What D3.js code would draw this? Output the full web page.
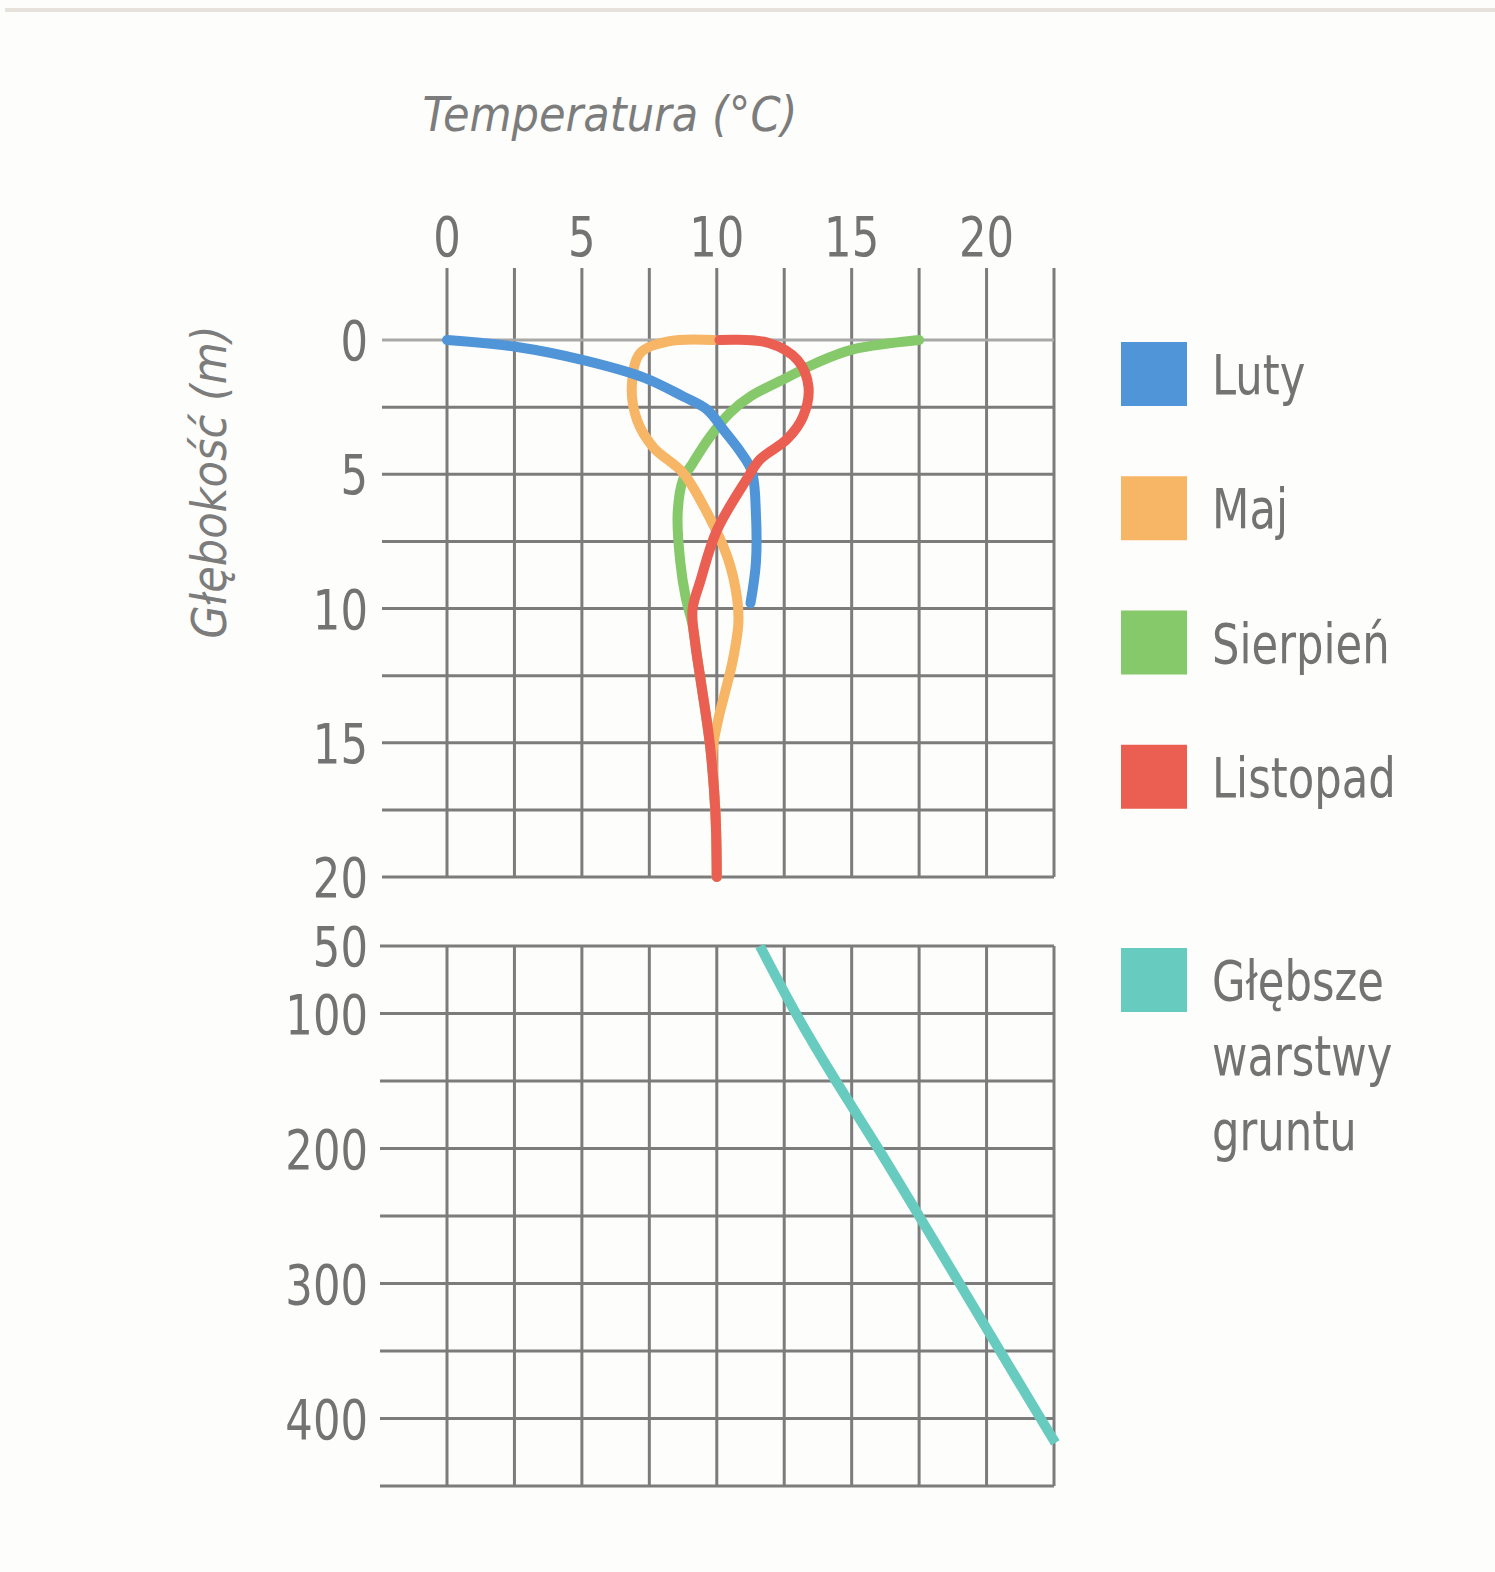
<!DOCTYPE html>
<html>
<head>
<meta charset="utf-8">
<script src="https://cdn.jsdelivr.net/npm/d3@7"></script>
<style>
  body { margin: 0; background: #fdfdfb; }
  svg { display: block; }
  text { font-family: 'Liberation Sans Narrow', 'DejaVu Sans Condensed', 'Liberation Sans', Arial, sans-serif; }
</style>
</head>
<body>
<svg></svg>
<script>
// temperatura (°C) vs głębokość (m)
const luty = [
    { t: 0, d: 0 }, { t: 2.6, d: 0.26 }, { t: 5.05, d: 0.75 }, { t: 7.3, d: 1.4 },
    { t: 8.75, d: 2.1 }, { t: 9.65, d: 2.6 }, { t: 10.25, d: 3.35 }, { t: 10.9, d: 4.2 },
    { t: 11.3, d: 4.9 }, { t: 11.45, d: 6.45 }, { t: 11.45, d: 8.3 }, { t: 11.25, d: 9.8 }
];
const maj = [
    { t: 9.9, d: 0 }, { t: 8.2, d: 0.05 }, { t: 7.15, d: 0.5 }, { t: 6.85, d: 1.75 },
    { t: 7.05, d: 3.0 }, { t: 7.65, d: 4.0 }, { t: 8.75, d: 4.95 }, { t: 9.65, d: 6.45 },
    { t: 10.4, d: 8.1 }, { t: 10.75, d: 9.6 }, { t: 10.8, d: 10.55 }, { t: 10.6, d: 11.9 },
    { t: 10.3, d: 13.15 }, { t: 10.05, d: 14.15 }, { t: 9.85, d: 15.3 }, { t: 9.95, d: 17.6 },
    { t: 10, d: 20 }
];
const sierpien = [
    { t: 17.5, d: 0 }, { t: 15.05, d: 0.35 }, { t: 13.7, d: 0.85 }, { t: 12.6, d: 1.4 },
    { t: 11.25, d: 2.1 }, { t: 10.5, d: 2.7 }, { t: 9.75, d: 3.6 }, { t: 9.1, d: 4.6 },
    { t: 8.75, d: 5.2 }, { t: 8.55, d: 6.45 }, { t: 8.65, d: 8.3 }, { t: 8.85, d: 9.6 },
    { t: 9.1, d: 10.6 }, { t: 9.3, d: 12.0 }, { t: 9.45, d: 13.0 }, { t: 9.75, d: 15.1 },
    { t: 9.95, d: 17.6 }, { t: 10, d: 20 }
];
const listopad = [
    { t: 10.1, d: 0 }, { t: 11.9, d: 0.1 }, { t: 13.0, d: 0.75 }, { t: 13.4, d: 1.75 },
    { t: 13.2, d: 2.85 }, { t: 12.6, d: 3.7 }, { t: 11.6, d: 4.45 }, { t: 11.1, d: 5.2 },
    { t: 10.0, d: 7.1 }, { t: 9.4, d: 8.95 }, { t: 9.1, d: 10.05 }, { t: 9.2, d: 11.3 },
    { t: 9.4, d: 12.65 }, { t: 9.75, d: 15.1 }, { t: 9.95, d: 17.6 }, { t: 10, d: 20 }
];
const glebsze = [
    { t: 11.6, d: 50 }, { t: 12.9, d: 100 }, { t: 14.4, d: 150 }, { t: 16.0, d: 200 },
    { t: 17.5, d: 250 }, { t: 19.0, d: 300 }, { t: 20.5, d: 350 }, { t: 22.0, d: 400 },
    { t: 22.55, d: 418 }
];

const xTicks = [0, 5, 10, 15, 20];
const topTicks = [0, 5, 10, 15, 20];
const bottomTicks = [50, 100, 200, 300, 400];
const legendTop = ['Luty', 'Maj', 'Sierpień', 'Listopad'];
const legendBottom = ['Głębsze', 'warstwy', 'gruntu'];

const colors = {
    luty: '#4f95d8',
    maj: '#f7b566',
    sierpien: '#86c96b',
    listopad: '#ea5f52',
    glebsze: '#68cbbf'
};

const svgWidth = 1495;
const svgHeight = 1572;
const gridColor = '#7c7c7c';
const textColor = '#737373';
const squeeze = 0.86;

const svg = d3.select('svg')
    .attr('width', svgWidth)
    .attr('height', svgHeight);

svg.append('line')
    .attr('x1', 5).attr('x2', svgWidth)
    .attr('y1', 10).attr('y2', 10)
    .attr('stroke', '#e6e1db')
    .attr('stroke-width', 4);

const xScale = d3.scaleLinear()
    .domain([0, 22.5])
    .range([447, 1054]);

const yTop = d3.scaleLinear()
    .domain([0, 20])
    .range([340, 877]);

const yBottom = d3.scaleLinear()
    .domain([50, 450])
    .range([946, 1486]);

const gridX = d3.range(0, 22.5 + 0.01, 2.5);
const gridTopY = d3.range(0, 20 + 0.01, 2.5);
const gridBottomY = d3.range(50, 450 + 1, 50);
const leftEdge = 382;

const grid = svg.append('g')
    .attr('stroke', gridColor)
    .attr('stroke-width', 3);

// górny panel
grid.selectAll('.vtop')
    .data(gridX)
    .enter().append('line')
    .attr('x1', d => xScale(d))
    .attr('x2', d => xScale(d))
    .attr('y1', yTop(0) - 72)
    .attr('y2', yTop(20));

grid.selectAll('.htop')
    .data(gridTopY)
    .enter().append('line')
    .attr('x1', leftEdge)
    .attr('x2', xScale(22.5))
    .attr('y1', d => yTop(d))
    .attr('y2', d => yTop(d))
    .attr('stroke', d => d === 0 ? '#a8a8a8' : gridColor);

// dolny panel
grid.selectAll('.vbot')
    .data(gridX)
    .enter().append('line')
    .attr('x1', d => xScale(d))
    .attr('x2', d => xScale(d))
    .attr('y1', yBottom(50))
    .attr('y2', yBottom(450));

grid.selectAll('.hbot')
    .data(gridBottomY)
    .enter().append('line')
    .attr('x1', leftEdge - 2)
    .attr('x2', xScale(22.5))
    .attr('y1', d => yBottom(d))
    .attr('y2', d => yBottom(d));

// etykiety osi (wąskie pismo)
svg.selectAll('.xlabel')
    .data(xTicks)
    .enter().append('text')
    .attr('transform', d => `translate(${xScale(d)}, 256) scale(${squeeze}, 1)`)
    .attr('text-anchor', 'middle')
    .attr('fill', textColor)
    .attr('font-size', '56px')
    .text(d => d);

svg.selectAll('.ytop')
    .data(topTicks)
    .enter().append('text')
    .attr('transform', d => `translate(368, ${yTop(d)}) scale(${squeeze}, 1)`)
    .attr('dy', '0.36em')
    .attr('text-anchor', 'end')
    .attr('fill', textColor)
    .attr('font-size', '56px')
    .text(d => d);

svg.selectAll('.ybot')
    .data(bottomTicks)
    .enter().append('text')
    .attr('transform', d => `translate(368, ${yBottom(d)}) scale(${squeeze}, 1)`)
    .attr('dy', '0.36em')
    .attr('text-anchor', 'end')
    .attr('fill', textColor)
    .attr('font-size', '56px')
    .text(d => d);

svg.append('text')
    .attr('x', 610)
    .attr('y', 131)
    .attr('text-anchor', 'middle')
    .attr('fill', '#7c7c7c')
    .attr('font-size', '48px')
    .attr('font-style', 'italic')
    .text('Temperatura (°C)');

svg.append('text')
    .attr('transform', 'translate(226, 482) rotate(-90)')
    .attr('text-anchor', 'middle')
    .attr('fill', '#7c7c7c')
    .attr('font-size', '48px')
    .attr('font-style', 'italic')
    .text('Głębokość (m)');

// krzywe
const lineTop = d3.line()
    .x(d => xScale(d.t))
    .y(d => yTop(d.d))
    .curve(d3.curveCatmullRom.alpha(0.5));

const lineBottom = d3.line()
    .x(d => xScale(d.t))
    .y(d => yBottom(d.d))
    .curve(d3.curveBasis);

const series = [
    { name: 'sierpien', data: sierpien },
    { name: 'maj', data: maj },
    { name: 'luty', data: luty },
    { name: 'listopad', data: listopad }
];

svg.selectAll('.curve')
    .data(series)
    .enter().append('path')
    .attr('fill', 'none')
    .attr('stroke', d => colors[d.name])
    .attr('stroke-width', 10)
    .attr('stroke-linecap', 'round')
    .attr('stroke-linejoin', 'round')
    .attr('d', d => lineTop(d.data));

svg.append('path')
    .datum(glebsze)
    .attr('fill', 'none')
    .attr('stroke', colors.glebsze)
    .attr('stroke-width', 10)
    .attr('d', lineBottom);

// legenda
const legendKeys = ['luty', 'maj', 'sierpien', 'listopad'];

svg.selectAll('.legbox')
    .data(legendKeys)
    .enter().append('rect')
    .attr('x', 1121)
    .attr('y', (d, i) => yTop(i * 5) + 2)
    .attr('width', 66)
    .attr('height', 64)
    .attr('fill', d => colors[d]);

svg.selectAll('.legtext')
    .data(legendTop)
    .enter().append('text')
    .attr('transform', (d, i) => `translate(1212, ${yTop(i * 5) + 34}) scale(${squeeze}, 1)`)
    .attr('dy', '0.36em')
    .attr('fill', textColor)
    .attr('font-size', '56px')
    .text(d => d);

svg.append('rect')
    .attr('x', 1121)
    .attr('y', yBottom(50) + 2)
    .attr('width', 66)
    .attr('height', 64)
    .attr('fill', colors.glebsze);

svg.selectAll('.legdeep')
    .data(legendBottom)
    .enter().append('text')
    .attr('transform', (d, i) => `translate(1212, ${yBottom(50) + 34 + i * 75}) scale(${squeeze}, 1)`)
    .attr('dy', '0.36em')
    .attr('fill', textColor)
    .attr('font-size', '56px')
    .text(d => d);
</script>
</body>
</html>
